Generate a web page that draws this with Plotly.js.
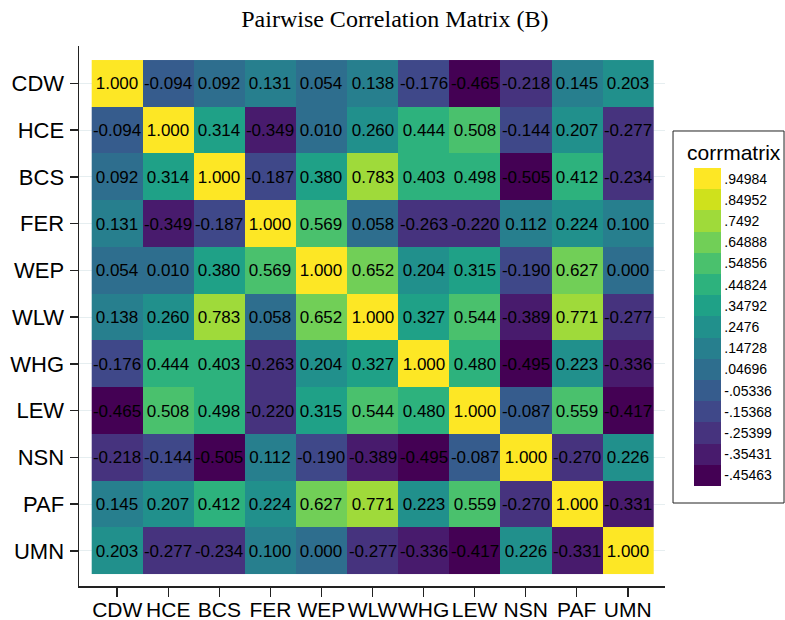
<!DOCTYPE html>
<html><head><meta charset="utf-8">
<script src="https://cdn.plot.ly/plotly-3.0.1.min.js"></script>
<style>html,body{margin:0;padding:0;background:#fff}</style>
</head><body><div id="chart" style="width:785px;height:620px"></div>
<script>
const variables = ['CDW','HCE','BCS','FER','WEP','WLW','WHG','LEW','NSN','PAF','UMN'];
const rowCDW = [1.000,-0.094,0.092,0.131,0.054,0.138,-0.176,-0.465,-0.218,0.145,0.203];
const rowHCE = [-0.094,1.000,0.314,-0.349,0.010,0.260,0.444,0.508,-0.144,0.207,-0.277];
const rowBCS = [0.092,0.314,1.000,-0.187,0.380,0.783,0.403,0.498,-0.505,0.412,-0.234];
const rowFER = [0.131,-0.349,-0.187,1.000,0.569,0.058,-0.263,-0.220,0.112,0.224,0.100];
const rowWEP = [0.054,0.010,0.380,0.569,1.000,0.652,0.204,0.315,-0.190,0.627,0.000];
const rowWLW = [0.138,0.260,0.783,0.058,0.652,1.000,0.327,0.544,-0.389,0.771,-0.277];
const rowWHG = [-0.176,0.444,0.403,-0.263,0.204,0.327,1.000,0.480,-0.495,0.223,-0.336];
const rowLEW = [-0.465,0.508,0.498,-0.220,0.315,0.544,0.480,1.000,-0.087,0.559,-0.417];
const rowNSN = [-0.218,-0.144,-0.505,0.112,-0.190,-0.389,-0.495,-0.087,1.000,-0.270,0.226];
const rowPAF = [0.145,0.207,0.412,0.224,0.627,0.771,0.223,0.559,-0.270,1.000,-0.331];
const rowUMN = [0.203,-0.277,-0.234,0.100,0.000,-0.277,-0.336,-0.417,0.226,-0.331,1.000];

const binColors = ['#440154','#481B6D','#46337E','#3F4889','#365C8D','#2E6E8E','#277F8E','#21908C','#1FA187','#2DB27D','#4AC16D','#71CF57','#9FDA3A','#CFE11C','#FDE725'];
const legendMids = [-0.45463,-0.35431,-0.25399,-0.15368,-0.05336,0.04696,0.14728,0.2476,0.34792,0.44824,0.54856,0.64888,0.7492,0.84952,0.94984];
const legendLabels = ['-.45463','-.35431','-.25399','-.15368','-.05336','.04696','.14728','.2476','.34792','.44824','.54856','.64888','.7492','.84952','.94984'];
const legendTitle = 'corrmatrix';

const z = [rowCDW,rowHCE,rowBCS,rowFER,rowWEP,rowWLW,rowWHG,rowLEW,rowNSN,rowPAF,rowUMN];
const nb = binColors.length;
const colorscale = [];
binColors.forEach((c,i)=>{ colorscale.push([i/nb,c]); colorscale.push([(i+1)/nb,c]); });
const flat = z.flat();
const zmin = Math.min(...flat), zmax = Math.max(...flat);

const font = 'Liberation Sans, Arial, sans-serif';
const trace = {
  type:'heatmap', x:variables, y:variables, z:z,
  zmin:zmin, zmax:zmax, colorscale:colorscale,
  texttemplate:'%{z:.3f}', textfont:{family:font, size:17, color:'#000'},
  colorbar:{
    tickvals:legendMids, ticktext:legendLabels, ticks:'', ticklen:0,
    tickfont:{family:font, size:14, color:'#000'},
    thickness:27, thicknessmode:'pixels',
    len:318, lenmode:'pixels',
    x:1.0495, xanchor:'left', y:0.774, yanchor:'top',
    xpad:0, ypad:0, outlinewidth:0, borderwidth:0, bgcolor:'rgba(0,0,0,0)'
  }
};
const layout = {
  width:785, height:620,
  margin:{l:79, r:120, t:46, b:34, autoexpand:false},
  paper_bgcolor:'#fff', plot_bgcolor:'#fff',
  title:{text:'Pairwise Correlation Matrix (B)', x:0.503, xref:'container', xanchor:'center', y:0.97, yref:'container', yanchor:'middle', font:{family:'Liberation Serif, Times New Roman, serif', size:24, color:'#000'}},
  xaxis:{type:'category', range:[-0.749,10.729], showgrid:false, zeroline:false, tickangle:0,
    showline:true, linecolor:'#222', linewidth:1.5, ticks:'outside', ticklen:9, tickcolor:'#222', tickwidth:1.5,
    ticklabelstandoff:-5,
    tickfont:{family:font, size:21, color:'#000'}, fixedrange:true},
  yaxis:{type:'category', range:[10.75,-0.8], showgrid:true, gridcolor:'#e6eef0', gridwidth:1, zeroline:false,
    showline:true, linecolor:'#222', linewidth:1.5, ticks:'outside', ticklen:8, tickcolor:'#222', tickwidth:1.5,
    ticklabelstandoff:1,
    tickfont:{family:font, size:22, color:'#000'}, fixedrange:true},
  shapes:[{type:'rect', xref:'paper', yref:'paper', x0:1.0137, x1:1.2031, y0:0.1537, y1:0.8426,
    line:{color:'#222', width:1}, fillcolor:'rgba(0,0,0,0)', layer:'above'}],
  annotations:[{text:legendTitle, xref:'paper', yref:'paper', x:1.1177, y:0.8019, xanchor:'center', yanchor:'middle',
    showarrow:false, font:{family:font, size:21, color:'#000'}}],
  showlegend:false
};
Plotly.newPlot('chart',[trace],layout,{displayModeBar:false, staticPlot:true});
</script></body></html>
